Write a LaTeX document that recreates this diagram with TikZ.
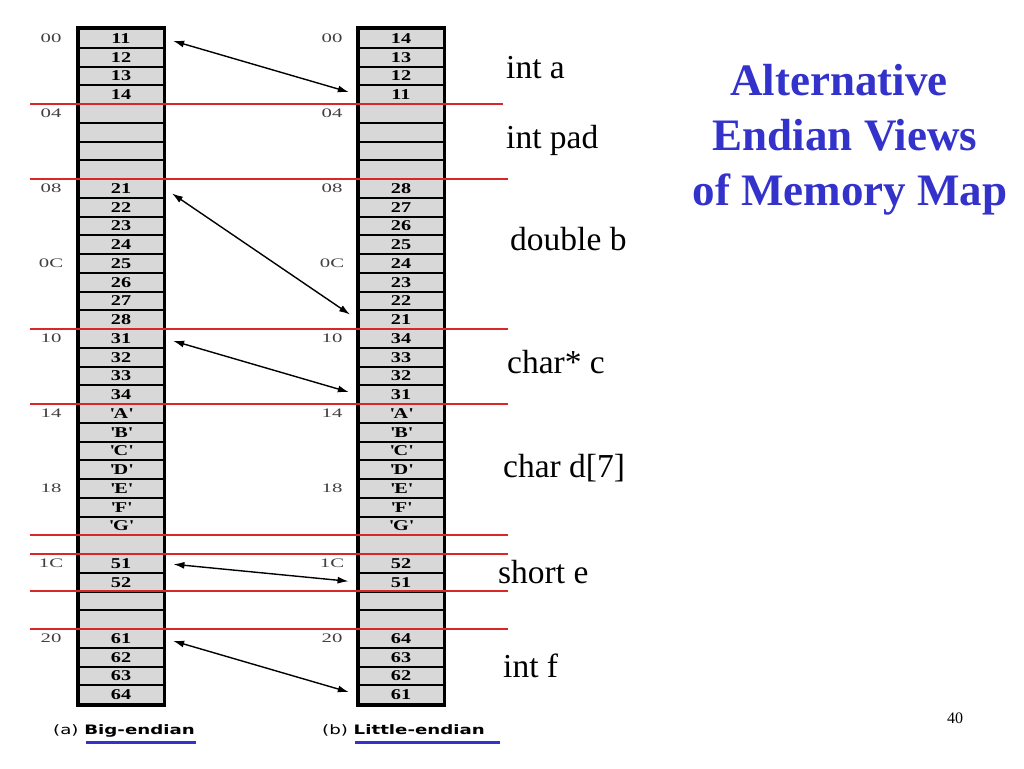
\documentclass[tikz,border=0pt]{standalone}
\usepackage{fontspec}
\setmainfont{Liberation Serif}
\newfontfamily\capfont[FakeStretch=1.4]{DejaVu Sans}
\newfontfamily\cellfont[FakeStretch=1.35]{Liberation Serif}
\newfontfamily\addrfont[FakeStretch=1.6]{Liberation Serif}
\usetikzlibrary{arrows.meta}
\definecolor{titleblue}{RGB}{51,51,204}
\definecolor{cellgray}{RGB}{216,216,216}
\definecolor{mapred}{RGB}{214,40,40}
\newcommand{\sq}[1]{\textquotesingle#1\textquotesingle}
\tikzset{
  cell/.style={draw, fill=cellgray, line width=2pt, minimum width=85pt,
    minimum height=18.75pt, inner sep=0pt, font=\cellfont\fontsize{15}{15}\selectfont\bfseries},
  addr/.style={font=\addrfont\fontsize{13}{13}\selectfont, text=black!75},
  field/.style={anchor=base west, inner sep=0pt, font=\fontsize{33.5}{33.5}\selectfont},
  heading/.style={anchor=base, inner sep=0pt, text=titleblue,
    font=\fontsize{45}{45}\selectfont\bfseries},
  capt/.style={anchor=base west, inner sep=0pt, font=\capfont\fontsize{13}{13}\selectfont},
  swap/.style={{Latex[length=11pt,width=7pt]}-{Latex[length=11pt,width=7pt]},
    line width=1.4pt, shorten <=9pt, shorten >=9pt},
  divider/.style={draw=mapred, line width=1.3pt},
  uline/.style={draw=titleblue, line width=3pt},
}
\begin{document}
\begin{tikzpicture}[x=1pt,y=-1pt]
\useasboundingbox (0,0) rectangle (1024,768);
% big-endian column
\foreach \t [count=\i from 0] in {11,12,13,14,{},{},{},{},21,22,23,24,25,26,27,28,
    31,32,33,34,{\sq{A}},{\sq{B}},{\sq{C}},{\sq{D}},{\sq{E}},{\sq{F}},{\sq{G}},{},
    51,52,{},{},61,62,63,64}
  \node[cell] (L\i) at (121,{29+(\i+0.5)*18.75}) {\t};
% little-endian column
\foreach \t [count=\i from 0] in {14,13,12,11,{},{},{},{},28,27,26,25,24,23,22,21,
    34,33,32,31,{\sq{A}},{\sq{B}},{\sq{C}},{\sq{D}},{\sq{E}},{\sq{F}},{\sq{G}},{},
    52,51,{},{},64,63,62,61}
  \node[cell] (R\i) at (401,{29+(\i+0.5)*18.75}) {\t};
\draw[line width=3.5pt] (L0.north west) rectangle (L35.south east);
\draw[line width=3.5pt] (R0.north west) rectangle (R35.south east);
% addresses
\foreach \r/\a in {0/00,4/04,8/08,12/0C,16/10,20/14,24/18,28/1C,32/20} {
  \node[addr] (la\r) at (51,{29+(\r+0.5)*18.75}) {\a};
  \node[addr] (ra\r) at (332,{29+(\r+0.5)*18.75}) {\a};
}
% field boundaries
\draw[divider] (30,104) -- (503,104);
\foreach \y in {179,329,404,535,554,591,629}
  \draw[divider] (30,\y) -- (508,\y);
% byte swaps
\draw[swap] (L0.east) -- (R3.west);
\draw[swap] (L8.east) -- (R15.west);
\draw[swap] (L16.east) -- (R19.west);
\draw[swap] (L28.east) -- (R29.west);
\draw[swap] (L32.east) -- (R35.west);
% field names
\node[field] (fa) at (506,78) {int a};
\node[field] (fpad) at (506,148) {int pad};
\node[field] (fb) at (510,250) {double b};
\node[field] (fc) at (507,373) {char* c};
\node[field] (fd) at (503,477) {char d[7]};
\node[field] (fe) at (498,583) {short e};
\node[field] (ff) at (503,677) {int f};
% title
\node[heading] (title1) at (839,95) {Alternative};
\node[heading] (title2) at (845,150) {Endian Views};
\node[heading] (title3) at (850,205) {of Memory Map};
\node[anchor=base, font=\fontsize{16}{16}\selectfont] (pagenum) at (955,723) {40};
% captions
\node[capt] (capa) at (53,734) {(a) \textbf{Big-endian}};
\node[capt] (capb) at (322,734) {(b) \textbf{Little-endian}};
\draw[uline] (86,742) -- (196,742);
\draw[uline] (355,742) -- (500,742);
\end{tikzpicture}
\end{document}
